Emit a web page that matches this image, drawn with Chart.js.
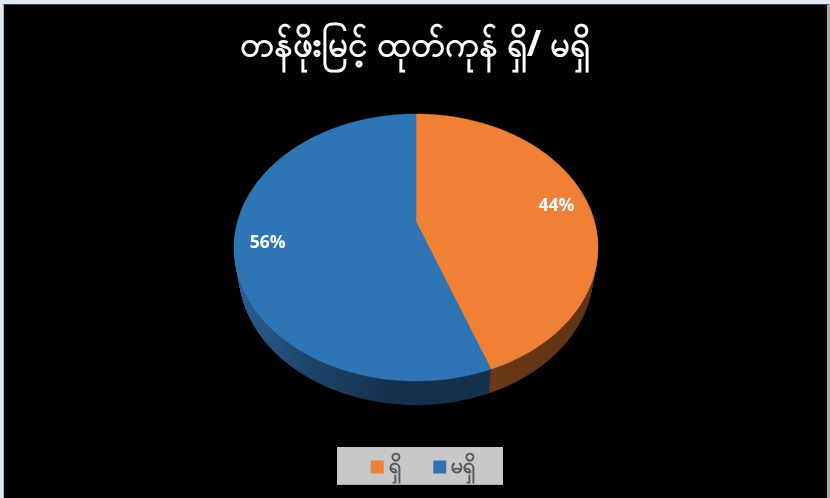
<!DOCTYPE html>
<html>
<head>
<meta charset="utf-8">
<style>
  html, body { margin: 0; padding: 0; background: #dde8f1; overflow: hidden; }
  #frame { position: absolute; left: 3px; top: 4px; width: 823px; height: 494px; background: #000;
           border-top: 1px solid #444; border-left: 1px solid #b4b4b4; border-right: 3px solid #a8a8a8; }
  canvas { position: absolute; left: 0; top: 0; display: block; }
</style>
</head>
<body>
<div id="frame"></div>
<canvas id="chart" width="830" height="498"></canvas>
<script src="https://cdn.jsdelivr.net/npm/chart.js@4"></script>
<script>
const chartTitle = 'တန်ဖိုးမြင့် ထုတ်ကုန် ရှိ/ မရှိ';
const categories = ['ရှိ', 'မရှိ'];
const seriesValues = [44.4, 55.6];
const sliceColors = ['#f08033', '#2e75b6'];

// side wall shades, left to right across the pie
const wallColors = [
  [[0, '#6a3916'], [1, '#5e3213']],
  [[0, '#2b5f95'], [0.3, '#1d4469'], [0.6, '#15304c'], [1, '#14304b']]
];

// the pie looks tilted towards the viewer, so the centre sits above the middle of the oval
const view = { cx: 416, cy: 247.5, sx: 178.6, sy: 133.5, lift: 25.5, persp: 0.191, depth: 24, shrink: 0.025 };

function project(a, r, drop) {
  const x = r * Math.cos(a);
  const y = r * Math.sin(a);
  const w = 1 - view.persp * y;
  const k = 1 - view.shrink * drop / view.depth;
  return [
    view.cx + k * view.sx * x / w,
    view.cy + drop + (view.sy * y - view.lift) / w
  ];
}

function slicePath(ctx, arc, drop) {
  const steps = 200;
  ctx.beginPath();
  ctx.moveTo(...project(0, 0, drop));
  for (let i = 0; i <= steps; i++) {
    const a = arc.startAngle + (arc.endAngle - arc.startAngle) * i / steps;
    ctx.lineTo(...project(a, 1, drop));
  }
  ctx.closePath();
}

const tiltedPie = {
  id: 'tiltedPie',
  afterLayout(chart) {
    // legend box centre
    const lg = chart.legend;
    const dx = 426 - (lg.left + lg.right) / 2;
    const dy = 452.5 - (lg.top + lg.bottom) / 2;
    lg.left += dx; lg.right += dx;
    lg.top += dy; lg.bottom += dy;
  },
  beforeDraw(chart) {
    chart.ctx.fillStyle = '#c8c8c8';
    chart.ctx.fillRect(337, 447, 166, 38);
    chart.ctx.fillStyle = '#8a8a8a';
    chart.ctx.fillRect(337, 484.5, 166, 0.5);
  },
  beforeDatasetDraw(chart, args) {
    const ctx = chart.ctx;
    const arcs = args.meta.data;
    ctx.save();
    const walls = wallColors.map((stops, i) => {
      const g = i === 0
        ? ctx.createLinearGradient(490, 0, 600, 0)
        : ctx.createLinearGradient(234, 0, 490, 0);
      stops.forEach(s => g.addColorStop(s[0], s[1]));
      return g;
    });
    for (let d = view.depth; d > 0; d -= 0.5) {
      arcs.forEach((arc, i) => {
        ctx.fillStyle = walls[i];
        slicePath(ctx, arc, d);
        ctx.fill();
      });
    }
    arcs.forEach((arc, i) => {
      ctx.fillStyle = sliceColors[i];
      ctx.strokeStyle = sliceColors[i];
      ctx.lineWidth = 0.5;
      slicePath(ctx, arc, 0);
      ctx.fill();
      ctx.stroke();
    });
    ctx.fillStyle = '#fff';
    ctx.font = 'bold 17.5px "Open Sans", "Noto Sans", sans-serif';
    ctx.textAlign = 'center';
    ctx.textBaseline = 'middle';
    const total = seriesValues.reduce((a, b) => a + b, 0);
    arcs.forEach((arc, i) => {
      const mid = (arc.startAngle + arc.endAngle) / 2;
      const p = project(mid, 0.82, 0);
      ctx.fillText(Math.round(seriesValues[i] / total * 100) + '%', p[0], p[1] + 2);
    });
    ctx.restore();
    return false;
  }
};

new Chart(document.getElementById('chart'), {
  type: 'pie',
  data: {
    labels: categories,
    datasets: [{ data: seriesValues, backgroundColor: sliceColors, borderWidth: 0 }]
  },
  options: {
    responsive: false,
    animation: false,
    plugins: {
      title: {
        display: true,
        text: chartTitle,
        color: '#fff',
        padding: { top: 25, bottom: 10 },
        font: { size: 35, weight: 'bold', family: '"Noto Sans", "DejaVu Sans", sans-serif' }
      },
      legend: {
        position: 'bottom',
        labels: {
          color: '#595959',
          usePointStyle: true,
          pointStyle: 'rect',
          boxWidth: 0.5,
          boxHeight: 13,
          padding: 39,
          font: { size: 22, weight: 'bold', family: '"Noto Sans", "DejaVu Sans", sans-serif' }
        }
      },
      tooltip: { enabled: false }
    }
  },
  plugins: [tiltedPie]
});
</script>
</body>
</html>
